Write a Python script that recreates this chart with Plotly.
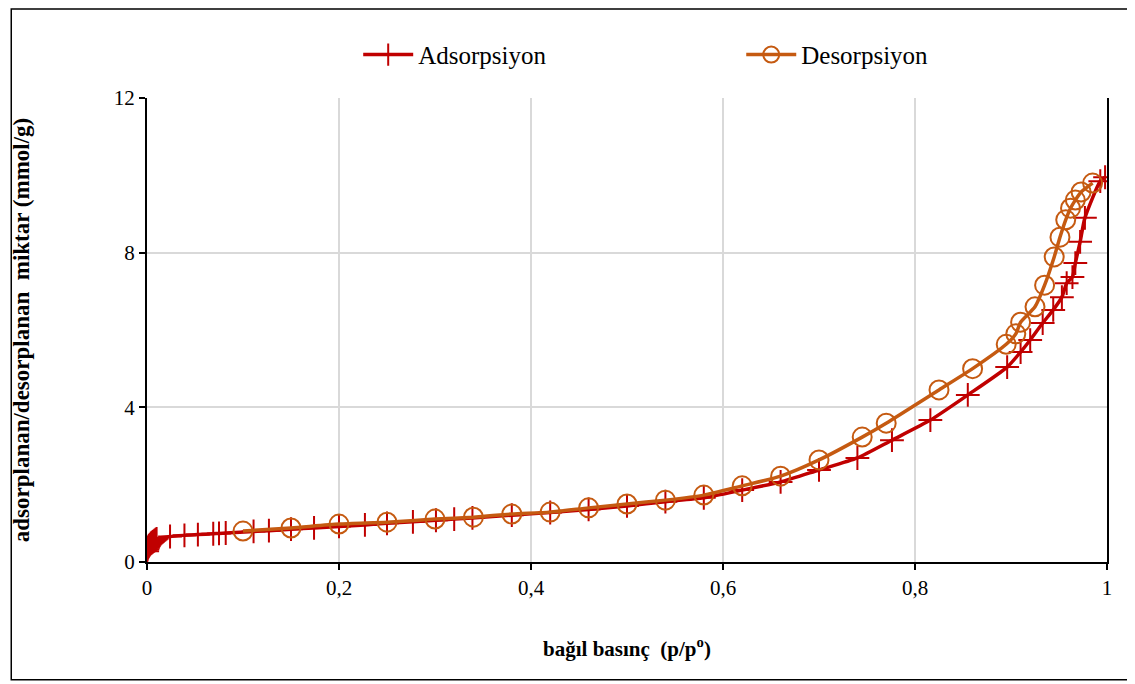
import plotly.graph_objects as go

# adsorption branch (p/p0, mmol/g)
ads_x = [0.0002, 0.0005, 0.001, 0.0015, 0.002, 0.003, 0.004, 0.005, 0.006, 0.007,
         0.008, 0.009, 0.010, 0.024, 0.039, 0.053, 0.069, 0.075, 0.082, 0.111,
         0.127, 0.15, 0.174, 0.20, 0.227, 0.25, 0.277, 0.301, 0.32, 0.339,
         0.38, 0.42, 0.46, 0.50, 0.54, 0.58, 0.62, 0.66, 0.70, 0.74,
         0.776, 0.816, 0.855, 0.896, 0.91, 0.92, 0.933, 0.944, 0.953, 0.958,
         0.964, 0.967, 0.972, 0.977, 0.993, 0.998]
ads_y = [0.28, 0.33, 0.37, 0.40, 0.42, 0.45, 0.48, 0.50, 0.52, 0.54,
         0.56, 0.58, 0.60, 0.66, 0.69, 0.71, 0.73, 0.74, 0.75, 0.79,
         0.81, 0.85, 0.88, 0.92, 0.96, 1.00, 1.04, 1.08, 1.11, 1.14,
         1.21, 1.28, 1.36, 1.45, 1.56, 1.66, 1.86, 2.07, 2.38, 2.69,
         3.15, 3.67, 4.32, 5.04, 5.43, 5.74, 6.18, 6.52, 6.85, 7.21,
         7.37, 7.73, 8.28, 8.90, 9.85, 9.95]

# desorption branch
des_x = [0.985, 0.973, 0.967, 0.962, 0.957, 0.951, 0.945, 0.935, 0.925, 0.91,
         0.905, 0.895, 0.86, 0.825, 0.77, 0.745, 0.70, 0.66, 0.62, 0.58,
         0.54, 0.50, 0.46, 0.42, 0.38, 0.34, 0.30, 0.25, 0.20, 0.15, 0.10]
des_y = [9.80, 9.57, 9.36, 9.15, 8.85, 8.40, 7.89, 7.16, 6.60, 6.20,
         5.90, 5.63, 5.00, 4.45, 3.59, 3.23, 2.64, 2.22, 1.97, 1.73,
         1.60, 1.50, 1.40, 1.29, 1.24, 1.16, 1.11, 1.03, 0.98, 0.88, 0.80]

x_ticks = [0, 0.2, 0.4, 0.6, 0.8, 1]
x_labels = ["0", "0,2", "0,4", "0,6", "0,8", "1"]
y_ticks = [0, 4, 8, 12]

serif = "'Liberation Serif', 'Times New Roman', 'DejaVu Serif', serif"

fig = go.Figure()

fig.add_trace(go.Scatter(
    x=ads_x, y=ads_y, name="Adsorpsiyon", legend="legend", showlegend=True,
    mode="lines+markers",
    line=dict(color="#C00000", width=3.5, shape="spline", smoothing=0.6),
    marker=dict(symbol="cross-thin", size=17, line=dict(color="#C00000", width=2))
))

fig.add_trace(go.Scatter(
    x=des_x, y=des_y, name="Desorpsiyon", legend="legend2", showlegend=True,
    mode="lines+markers",
    line=dict(color="#C55A11", width=3.5, shape="spline", smoothing=0.6),
    marker=dict(symbol="circle-open", size=19, line=dict(color="#C55A11", width=2))
))

legend_style = dict(
    orientation="h", y=1.093, xanchor="left", yanchor="middle", itemwidth=50,
    font=dict(family=serif, size=25, color="black"), bgcolor="rgba(0,0,0,0)"
)

fig.update_layout(
    width=1127, height=676,
    margin=dict(l=137, r=28, t=90, b=122),
    paper_bgcolor="white",
    plot_bgcolor="white",
    showlegend=True,
    font=dict(family=serif, color="black", size=21),
    legend=dict(x=0.22, **legend_style),
    legend2=dict(x=0.619, **legend_style),
    shapes=[dict(
        type="rect", xref="paper", yref="paper",
        x0=-0.1414, x1=1.0218, y0=-0.254, y1=1.1918,
        line=dict(color="black", width=1.5), layer="below"
    )]
)

fig.update_xaxes(
    range=[0, 1], tickvals=x_ticks, ticktext=x_labels,
    showline=True, linecolor="black", linewidth=2, mirror=False,
    ticks="outside", ticklen=6, tickcolor="black", tickwidth=2,
    showgrid=True, gridcolor="#D9D9D9", gridwidth=1.5, zeroline=False,
    title=dict(text="<b>bağıl basınç  (p/p<sup>o</sup>)</b>", font=dict(family=serif, size=21), standoff=42)
)

fig.update_yaxes(
    range=[0, 12], tickvals=y_ticks,
    showline=True, linecolor="black", linewidth=2, mirror=True,
    ticks="outside", ticklen=6, tickcolor="black", tickwidth=2,
    showgrid=True, gridcolor="#D9D9D9", gridwidth=1.5, zeroline=False,
    title=dict(text="<b>adsorplanan/desorplanan  miktar (mmol/g)</b>", font=dict(family=serif, size=23), standoff=78)
)

fig.write_html("out.html")
